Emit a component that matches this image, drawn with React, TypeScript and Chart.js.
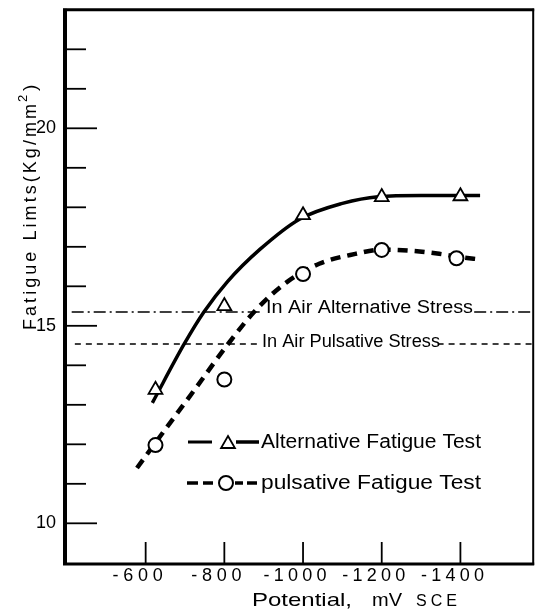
import React, { useEffect, useRef } from 'react';
import { Chart, registerables } from 'chart.js';

Chart.register(...registerables);

// ---- data (potential in mV SCE, fatigue limit in Kg/mm²) ----
const POTENTIAL_TICKS = [-600, -800, -1000, -1200, -1400];
const LIMIT_TICKS = [10, 11, 12, 13, 14, 15, 16, 17, 18, 19, 20, 21, 22];
const LIMIT_LABELS = [10, 15, 20];

const ALT_POTENTIAL = [-625, -800, -1000, -1200, -1400];
const ALT_LIMIT = [13.38, 15.5, 17.8, 18.26, 18.28];
const PUL_POTENTIAL = [-625, -800, -1000, -1200, -1390];
const PUL_LIMIT = [11.98, 13.64, 16.31, 16.92, 16.71];

const ALT_FIT_POTENTIAL = [-617, -698, -748, -808, -891, -991, -1100, -1191, -1300, -1450];
const ALT_FIT_LIMIT = [13.05, 14.54, 15.35, 16.12, 16.94, 17.7, 18.1, 18.27, 18.3, 18.3];
const PUL_FIT_POTENTIAL = [-578, -650, -725, -808, -883, -958, -1041, -1133, -1200, -1275, -1341, -1400, -1450];
const PUL_FIT_LIMIT = [11.4, 12.38, 13.39, 14.52, 15.43, 16.1, 16.57, 16.82, 16.93, 16.9, 16.83, 16.74, 16.68];

const AIR_ALT_STRESS = 15.35;
const AIR_PUL_STRESS = 14.54;
const AIR_ALT_LINE_X = [-412, -891, -1435, -1585];
const AIR_PUL_LINE_X = [-420, -889, -1342, -1585];

const X_MIN = -1585;
const X_MAX = -395;
const Y_MIN = 8.97;
const Y_MAX = 23.0;

const FONT = '"Liberation Sans", Arial, sans-serif';

// letter-spaced text filling a given width
function spread(ctx: CanvasRenderingContext2D, text: string, left: number, y: number, width: number) {
  const chars = Array.from(text);
  const widths = chars.map((c) => ctx.measureText(c).width);
  const total = widths.reduce((a, b) => a + b, 0);
  const gap = chars.length > 1 ? (width - total) / (chars.length - 1) : 0;
  let x = left;
  chars.forEach((c, i) => {
    ctx.fillText(c, x, y);
    x += widths[i] + gap;
  });
}

// horizontally stretched text filling a given width
function fit(ctx: CanvasRenderingContext2D, text: string, left: number, y: number, width: number) {
  const w = ctx.measureText(text).width;
  ctx.save();
  ctx.translate(left, y);
  ctx.scale(width / w, 1);
  ctx.textAlign = 'left';
  ctx.fillText(text, 0, 0);
  ctx.restore();
}

function seg(ctx: CanvasRenderingContext2D, x1: number, y1: number, x2: number, y2: number, w: number) {
  ctx.lineWidth = w;
  ctx.beginPath();
  ctx.moveTo(x1, y1);
  ctx.lineTo(x2, y2);
  ctx.stroke();
}

const decor = {
  id: 'decor',
  afterDraw(chart: any) {
    const ctx: CanvasRenderingContext2D = chart.ctx;
    const xs = chart.scales.x;
    const ys = chart.scales.y;
    const { left, right, top, bottom } = chart.chartArea;
    ctx.save();
    ctx.strokeStyle = '#000';
    ctx.fillStyle = '#000';
    ctx.lineCap = 'butt';
    ctx.setLineDash([]);

    // frame
    seg(ctx, left - 2, top, right + 1, top, 3);
    seg(ctx, left, top - 1, left, bottom + 1, 4);
    seg(ctx, right, top - 1, right, bottom + 1, 2);
    seg(ctx, left - 2, bottom, right + 1, bottom, 3);

    // y ticks (inward)
    LIMIT_TICKS.forEach((v) => {
      const y = ys.getPixelForValue(v);
      const major = LIMIT_LABELS.includes(v);
      seg(ctx, left, y, left + (major ? 32 : 21), y, 1.8);
    });
    // x ticks (inward)
    POTENTIAL_TICKS.forEach((v) => {
      const x = xs.getPixelForValue(v);
      seg(ctx, x, bottom, x, bottom - 22, 1.8);
    });

    // y tick labels
    ctx.font = `18px ${FONT}`;
    ctx.textBaseline = 'middle';
    ctx.textAlign = 'right';
    LIMIT_LABELS.forEach((v) => {
      ctx.fillText(String(v), left - 9, ys.getPixelForValue(v));
    });

    // x tick labels
    ctx.textAlign = 'left';
    ctx.font = `18px ${FONT}`;
    POTENTIAL_TICKS.forEach((v) => {
      const t = String(v);
      const w = t.length * 12.6;
      const cx = xs.getPixelForValue(v) - 8;
      spread(ctx, t, cx - w / 2, bottom + 12, w);
    });

    // x title
    ctx.font = `19px ${FONT}`;
    fit(ctx, 'Potential,', 252, bottom + 37, 100);
    fit(ctx, 'mV', 372, bottom + 37, 30);
    ctx.font = `16px ${FONT}`;
    spread(ctx, 'SCE', 416, bottom + 38, 41);

    // y title (rotated)
    ctx.save();
    ctx.translate(36, 209);
    ctx.rotate(-Math.PI / 2);
    ctx.textBaseline = 'alphabetic';
    ctx.font = `18px ${FONT}`;
    spread(ctx, 'Fatigue Limts(Kg/mm', -121, 0, 226);
    ctx.font = `13px ${FONT}`;
    ctx.textAlign = 'left';
    ctx.fillText('2', 107, -9);
    ctx.font = `19px ${FONT}`;
    ctx.fillText(')', 118, 0);
    ctx.restore();

    // reference line labels
    ctx.font = `18px ${FONT}`;
    ctx.textBaseline = 'middle';
    fit(ctx, 'In Air Alternative Stress', 266, ys.getPixelForValue(AIR_ALT_STRESS) - 4, 207);
    fit(ctx, 'In Air Pulsative Stress', 262, ys.getPixelForValue(AIR_PUL_STRESS) - 2, 178);

    // legend
    const r1 = 442;
    const r2 = 483;
    seg(ctx, 188, r1, 212, r1, 3);
    seg(ctx, 236, r1, 259, r1, 3.5);
    ctx.lineWidth = 1.8;
    ctx.fillStyle = '#fff';
    ctx.beginPath();
    const tr = 8;
    const tcy = r1 + 2;
    ctx.moveTo(228, tcy - tr);
    ctx.lineTo(228 + tr * 0.866, tcy + tr / 2);
    ctx.lineTo(228 - tr * 0.866, tcy + tr / 2);
    ctx.closePath();
    ctx.fill();
    ctx.stroke();

    seg(ctx, 187, r2, 198, r2, 3.5);
    seg(ctx, 203, r2, 213, r2, 3.5);
    seg(ctx, 235, r2, 243, r2, 3.5);
    seg(ctx, 247, r2, 257, r2, 3.5);
    ctx.lineWidth = 2;
    ctx.fillStyle = '#fff';
    ctx.beginPath();
    ctx.arc(226, r2, 7, 0, Math.PI * 2);
    ctx.fill();
    ctx.stroke();

    ctx.fillStyle = '#000';
    ctx.font = `20px ${FONT}`;
    ctx.textBaseline = 'middle';
    fit(ctx, 'Alternative Fatigue Test', 261, r1, 220);
    fit(ctx, 'pulsative Fatigue Test', 261, r2, 220);

    ctx.restore();
  },
};

export default function App() {
  const ref = useRef<HTMLCanvasElement>(null);
  useEffect(() => {
    const canvas = ref.current;
    if (!canvas) return;
    const pts = (xs: number[], ys: number[]) => xs.map((x, i) => ({ x, y: ys[i] }));
    const refLine = (xs: number[], y: number) => [
      { x: xs[0], y },
      { x: xs[1], y },
      { x: (xs[1] + xs[2]) / 2, y: null as any },
      { x: xs[2], y },
      { x: xs[3], y },
    ];
    const chart = new Chart(canvas, {
      type: 'scatter',
      data: {
        datasets: [
          {
            label: 'Alternative Fatigue Test',
            data: pts(ALT_POTENTIAL, ALT_LIMIT),
            showLine: false,
            pointStyle: 'triangle',
            pointRadius: 8,
            pointBackgroundColor: '#fff',
            pointBorderColor: '#000',
            pointBorderWidth: 1.8,
            order: 0,
          },
          {
            label: 'Pulsative Fatigue Test',
            data: pts(PUL_POTENTIAL, PUL_LIMIT),
            showLine: false,
            pointStyle: 'circle',
            pointRadius: 7,
            pointBackgroundColor: '#fff',
            pointBorderColor: '#000',
            pointBorderWidth: 2,
            order: 0,
          },
          {
            label: 'Alternative fit',
            data: pts(ALT_FIT_POTENTIAL, ALT_FIT_LIMIT),
            showLine: true,
            borderColor: '#000',
            borderWidth: 3.5,
            pointRadius: 0,
            cubicInterpolationMode: 'monotone',
            order: 1,
          },
          {
            label: 'Pulsative fit',
            data: pts(PUL_FIT_POTENTIAL, PUL_FIT_LIMIT),
            showLine: true,
            borderColor: '#000',
            borderWidth: 4.5,
            borderDash: [10, 7],
            pointRadius: 0,
            cubicInterpolationMode: 'monotone',
            order: 1,
          },
          {
            label: 'In Air Alternative Stress',
            data: refLine(AIR_ALT_LINE_X, AIR_ALT_STRESS),
            showLine: true,
            spanGaps: false,
            borderColor: '#000',
            borderWidth: 1.6,
            borderDash: [12, 4, 2, 4],
            pointRadius: 0,
            order: 2,
          },
          {
            label: 'In Air Pulsative Stress',
            data: refLine(AIR_PUL_LINE_X, AIR_PUL_STRESS),
            showLine: true,
            spanGaps: false,
            borderColor: '#000',
            borderWidth: 1.6,
            borderDash: [6, 5],
            pointRadius: 0,
            order: 2,
          },
        ] as any,
      },
      options: {
        responsive: false,
        animation: false,
        layout: { padding: { left: 65, right: 3, top: 6, bottom: 50 } },
        scales: {
          x: { type: 'linear', display: false, reverse: true, min: X_MIN, max: X_MAX },
          y: { type: 'linear', display: false, min: Y_MIN, max: Y_MAX },
        },
        plugins: { legend: { display: false }, tooltip: { enabled: false } },
      } as any,
      plugins: [decor],
    });
    return () => chart.destroy();
  }, []);
  return (
    <div style={{ position: 'absolute', left: 0, top: 0, width: 543, height: 614, background: '#fff' }}>
      <canvas ref={ref} width={543} height={614} style={{ display: 'block' }} />
    </div>
  );
}
